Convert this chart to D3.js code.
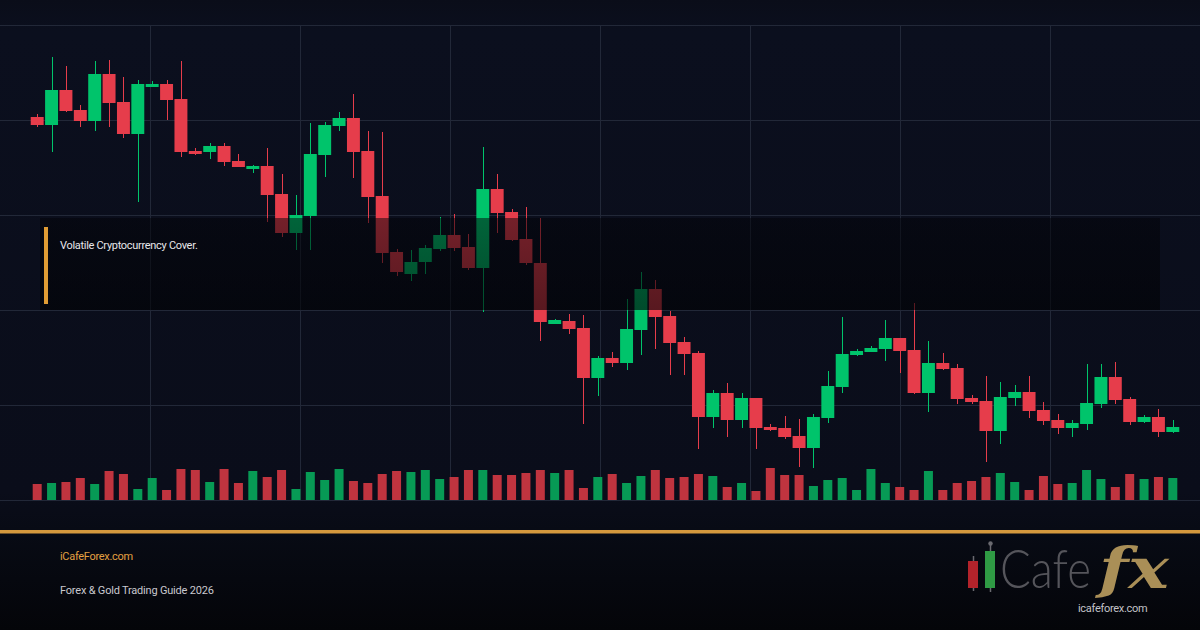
<!DOCTYPE html>
<html><head><meta charset="utf-8">
<script src="https://cdn.jsdelivr.net/npm/d3@7"></script>
<style>html,body{margin:0;padding:0;background:#0b0e1b;overflow:hidden}svg{display:block}</style>
</head><body><svg id="c" width="1200" height="630"></svg>
<script>
const opens  = [383,375,410,390,379,426,398,366,413,416,401,349,348,354,339,331,334,306,267,284,345,374,382,349,304,248,226,238,251,265,253,232,311,288,261,237,176,179,172,122,142,137,170,211,184,158,147,83,107,80,102,73,72,64,52,82,113,145,148,151,162,150,107,137,132,102,99,69,102,108,90,80,72,76,96,123,101,78,83,68];
const closes = [375,410,389,379,426,397,366,416,416,400,348,346,354,338,333,334,305,267,285,346,375,382,348,303,247,228,238,252,265,252,232,311,287,260,237,178,180,171,122,142,137,171,211,183,157,146,83,107,80,102,72,70,63,52,83,114,146,149,152,162,149,107,137,131,101,98,69,103,108,89,79,72,77,97,123,100,78,83,68,73];
const highs  = [386,443,434,395,439,440,423,420,419,420,439,352,357,357,346,335,352,326,305,377,378,388,406,369,368,251,250,255,283,286,266,353,326,291,293,282,181,186,185,144,148,201,228,220,189,163,149,110,117,107,102,76,84,81,86,129,183,151,154,180,162,197,159,147,136,105,124,118,115,124,98,86,80,136,136,138,103,85,91,80];
const lows   = [373,348,388,373,369,373,362,298,413,380,343,345,341,334,333,327,278,263,250,250,323,369,322,277,237,224,219,226,249,249,230,188,267,259,235,159,176,166,76,104,133,130,145,151,125,125,51,72,63,72,51,69,61,33,32,77,107,144,148,139,127,106,88,130,96,96,38,56,94,82,75,66,63,70,92,96,75,77,63,67];
const volumes= [16,17,18,22,16,29,26,11,22,10,31,30,18,31,17,29,23,30,11,28,20,31,19,17,26,29,28,30,21,23,30,30,25,25,27,30,27,30,12,23,26,17,24,30,22,23,26,24,13,17,9,32,25,25,14,20,22,10,31,17,13,10,29,10,17,19,23,27,18,10,24,16,17,30,21,13,26,21,23,22];
const priceTicks = [0,95,190,285,380,475];
const gridCols = [1,2,3,4,5,6,7];
const noteText = "Volatile Cryptocurrency Cover.";
const siteText = "iCafeForex.com";
const guideText = "Forex & Gold Trading Guide 2026";
const logoUrl = "icafeforex.com";

const svg = d3.select("#c");
const W = 1200, H = 630;
const UP = "#00c46b", DOWN = "#e63d4b";
const defs = svg.append("defs");

const bgG = defs.append("linearGradient").attr("id","bg").attr("x1",0).attr("y1",0).attr("x2",0).attr("y2",1);
bgG.append("stop").attr("offset","0").attr("stop-color","#0a0d19");
bgG.append("stop").attr("offset","0.05").attr("stop-color","#0b0f1e");
bgG.append("stop").attr("offset","0.78").attr("stop-color","#0a0d1a");
bgG.append("stop").attr("offset","0.84").attr("stop-color","#080b15");
bgG.append("stop").attr("offset","1").attr("stop-color","#040509");
svg.append("rect").attr("width",W).attr("height",H).attr("fill","url(#bg)");

const idx = d3.range(opens.length);
const x = d3.scaleBand().domain(idx).range([30,1180]).paddingInner(0.1).paddingOuter(0.05);
const y = d3.scaleLinear().domain([0,475]).range([500,25]);
const gx = d3.scaleLinear().domain([0,8]).range([0,W]);
const vy = d3.scaleLinear().domain([0,32]).range([500,468]);

// grid
svg.append("g").selectAll("line").data(priceTicks).join("line")
  .attr("x1",0).attr("x2",W).attr("y1",d=>y(d)+0.5).attr("y2",d=>y(d)+0.5)
  .attr("stroke","#222838").attr("stroke-width",1);
svg.append("g").selectAll("line").data(gridCols).join("line")
  .attr("x1",d=>gx(d)+0.5).attr("x2",d=>gx(d)+0.5).attr("y1",y(475)).attr("y2",y(0))
  .attr("stroke","#222838").attr("stroke-width",1);

// volume
const cx = i => x(i) + x.bandwidth()/2;
svg.append("g").selectAll("rect").data(idx).join("rect")
  .attr("x",i=>cx(i)-4.5).attr("width",9)
  .attr("y",i=>vy(volumes[i])).attr("height",i=>vy(0)-vy(volumes[i]))
  .attr("fill",i=>closes[i]>=opens[i]?"#079a55":"#c0343f");

// candles
const cg = svg.append("g");
cg.selectAll("line").data(idx).join("line")
  .attr("x1",i=>Math.round(cx(i))+0.5).attr("x2",i=>Math.round(cx(i))+0.5)
  .attr("y1",i=>y(highs[i])).attr("y2",i=>y(lows[i]))
  .attr("stroke",i=>closes[i]>=opens[i]?UP:DOWN).attr("stroke-width",1);
cg.selectAll("rect").data(idx).join("rect")
  .attr("x",i=>x(i)).attr("width",x.bandwidth())
  .attr("y",i=>y(Math.max(opens[i],closes[i])))
  .attr("height",i=>Math.max(2,Math.abs(y(opens[i])-y(closes[i]))))
  .attr("fill",i=>closes[i]>=opens[i]?UP:DOWN);

// overlay note box
const ovG = defs.append("linearGradient").attr("id","ov").attr("x1",0).attr("y1",0).attr("x2",0).attr("y2",1);
ovG.append("stop").attr("offset","0").attr("stop-color","#020308").attr("stop-opacity",0.5);
ovG.append("stop").attr("offset","1").attr("stop-color","#010205").attr("stop-opacity",0.62);
svg.append("rect").attr("x",40).attr("y",218).attr("width",1120).attr("height",92).attr("fill","url(#ov)");
svg.append("rect").attr("x",44).attr("y",227).attr("width",4).attr("height",77).attr("fill","#e09c34");
svg.append("text").attr("x",60).attr("y",249).text(noteText)
  .attr("font-family","Roboto, 'Noto Sans', sans-serif").attr("font-size",11).attr("letter-spacing",-0.3).attr("fill","#e6e6ea");

// footer
svg.append("rect").attr("x",0).attr("y",530).attr("width",W).attr("height",3.5).attr("fill","#d5993e");
svg.append("text").attr("x",60).attr("y",560).text(siteText)
  .attr("font-family","Roboto, 'Noto Sans', sans-serif").attr("font-size",11).attr("letter-spacing",-0.3).attr("fill","#e3a041");
svg.append("text").attr("x",60).attr("y",594).text(guideText)
  .attr("font-family","Roboto, 'Noto Sans', sans-serif").attr("font-size",11).attr("letter-spacing",-0.2).attr("fill","#c9c9cf");

// logo
const lg = svg.append("g");
lg.append("line").attr("x1",973.5).attr("x2",973.5).attr("y1",556).attr("y2",591).attr("stroke","#6a6a70").attr("stroke-width",1.5);
lg.append("rect").attr("x",968).attr("y",561).attr("width",10).attr("height",27).attr("fill","#b3232b");
lg.append("line").attr("x1",990.5).attr("x2",990.5).attr("y1",544).attr("y2",592).attr("stroke","#6a6a70").attr("stroke-width",1.5);
lg.append("circle").attr("cx",990.5).attr("cy",543.5).attr("r",2.2).attr("fill","#6a6a70");
lg.append("rect").attr("x",985).attr("y",551).attr("width",10).attr("height",37).attr("fill","#2f9a44");

function fitText(g, str, x0, y0, targetW, attrs) {
  const gg = g.append("g");
  const t = gg.append("text").text(str);
  Object.entries(attrs).forEach(([k,v]) => t.attr(k, v));
  const w = t.node().getComputedTextLength() || targetW;
  gg.attr("transform", `translate(${x0},${y0}) scale(${targetW / w},1)`);
}
fitText(lg, "Cafe", 1000, 588, 91, {"font-family":"Lato, 'Open Sans', sans-serif","font-weight":300,"font-size":54,"fill":"#55555b"});
fitText(lg, "fx", 1099, 588, 70, {"font-family":"'DejaVu Serif', 'Liberation Serif', serif","font-style":"italic","font-weight":"bold","font-size":56,"fill":"#aa8f57"});
lg.append("text").attr("x",1078).attr("y",612).text(logoUrl)
  .attr("font-family","Roboto, 'Noto Sans', sans-serif").attr("font-size",11).attr("letter-spacing",-0.3).attr("fill","#c3c3c8");
</script></body></html>
